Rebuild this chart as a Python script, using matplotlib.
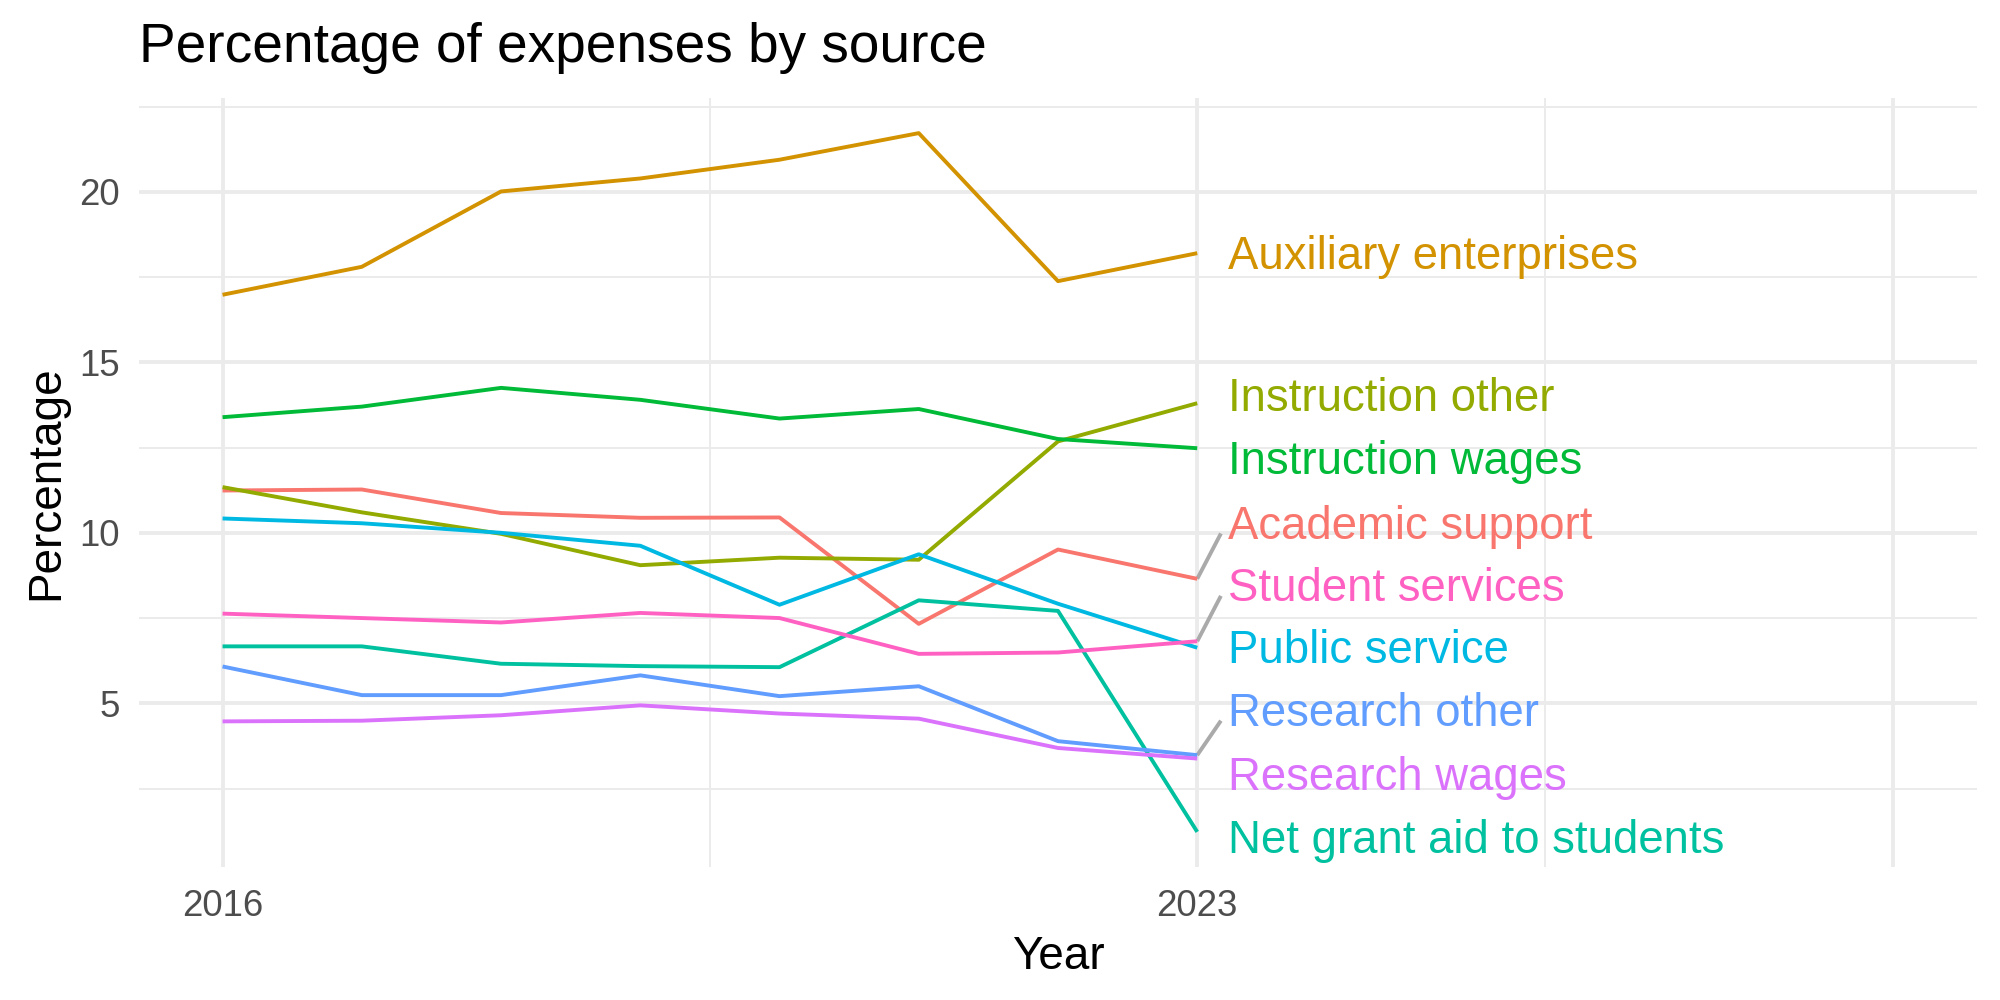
import numpy as np
import matplotlib
matplotlib.use("Agg")
import matplotlib.pyplot as plt

plt.rcParams['font.family'] = ['Liberation Sans', 'DejaVu Sans']

years = [2016, 2017, 2018, 2019, 2020, 2021, 2022, 2023]

academic_support = [11.24, 11.27, 10.58, 10.44, 10.45, 7.33, 9.51, 8.65]
auxiliary_enterprises = [16.98, 17.80, 20.01, 20.39, 20.94, 21.72, 17.38, 18.20]
instruction_other = [11.34, 10.60, 9.97, 9.05, 9.27, 9.21, 12.68, 13.80]
instruction_wages = [13.39, 13.70, 14.25, 13.90, 13.35, 13.63, 12.75, 12.48]
net_grant_aid = [6.67, 6.67, 6.16, 6.09, 6.06, 8.02, 7.71, 1.23]
public_service = [10.42, 10.28, 10.00, 9.62, 7.89, 9.37, 7.92, 6.63]
research_other = [6.08, 5.24, 5.24, 5.82, 5.21, 5.50, 3.89, 3.48]
research_wages = [4.47, 4.49, 4.65, 4.94, 4.70, 4.55, 3.69, 3.38]
student_services = [7.63, 7.50, 7.37, 7.65, 7.50, 6.45, 6.49, 6.82]

sources = ["Academic support", "Auxiliary enterprises", "Instruction other",
           "Instruction wages", "Net grant aid to students", "Public service",
           "Research other", "Research wages", "Student services"]
series = [academic_support, auxiliary_enterprises, instruction_other,
          instruction_wages, net_grant_aid, public_service,
          research_other, research_wages, student_services]

# ggplot hue palette, 9 levels
colors = ["#F8766D", "#D39200", "#93AA00", "#00BA38", "#00C19F",
          "#00B9E3", "#619CFF", "#DB72FB", "#FF61C3"]

# where the repelled labels ended up
label_y = [10.28, 18.20, 14.02, 12.18, 1.05, 6.62, 4.79, 2.92, 8.45]
label_x = 2023.22

fig = plt.figure(figsize=(10, 5), dpi=200)
ax = fig.add_axes([0.0695, 0.133, 0.919, 0.769])

for name, vals, col in zip(sources, series, colors):
    ax.plot(years, vals, color=col, lw=1.4, solid_capstyle='butt', zorder=3)

for name, vals, col, ly in zip(sources, series, colors, label_y):
    end = vals[-1]
    if abs(ly - end) > 1.0:
        # repel segment
        ax.plot([years[-1], 2023.17], [end, ly - 0.3], color='#AAAAAA',
                lw=1.4, zorder=2, solid_capstyle='butt')
    ax.text(label_x, ly - 0.1, name, color=col, fontsize=16.4, ha='left',
            va='center', zorder=4)

ax.set_xlim(2015.4, 2028.6)
ax.set_ylim(0.2, 22.75)
ax.set_xticks([2016, 2023, 2028])
ax.set_xticklabels(["2016", "2023", ""])
ax.set_xticks([2019.5, 2025.5], minor=True)
ax.set_yticks([5, 10, 15, 20])
ax.set_yticks([2.5, 7.5, 12.5, 17.5, 22.5], minor=True)

ax.grid(True, which='major', color='#EBEBEB', lw=1.4, zorder=0)
ax.grid(True, which='minor', color='#EBEBEB', lw=0.7, zorder=0)
ax.set_axisbelow(True)
for s in ax.spines.values():
    s.set_visible(False)
ax.tick_params(which='both', length=0)
ax.tick_params(axis='x', labelsize=13.2, labelcolor='#4D4D4D', pad=8)
ax.tick_params(axis='y', labelsize=13.2, labelcolor='#4D4D4D', pad=7)

ax.set_xlabel("Year", fontsize=16.5, labelpad=4)
ax.set_ylabel("Percentage", fontsize=16.5, labelpad=4)
ax.set_title("Percentage of expenses by source", loc='left', fontsize=19.8,
             pad=13)

fig.savefig("out.png", dpi=200, facecolor='white')
